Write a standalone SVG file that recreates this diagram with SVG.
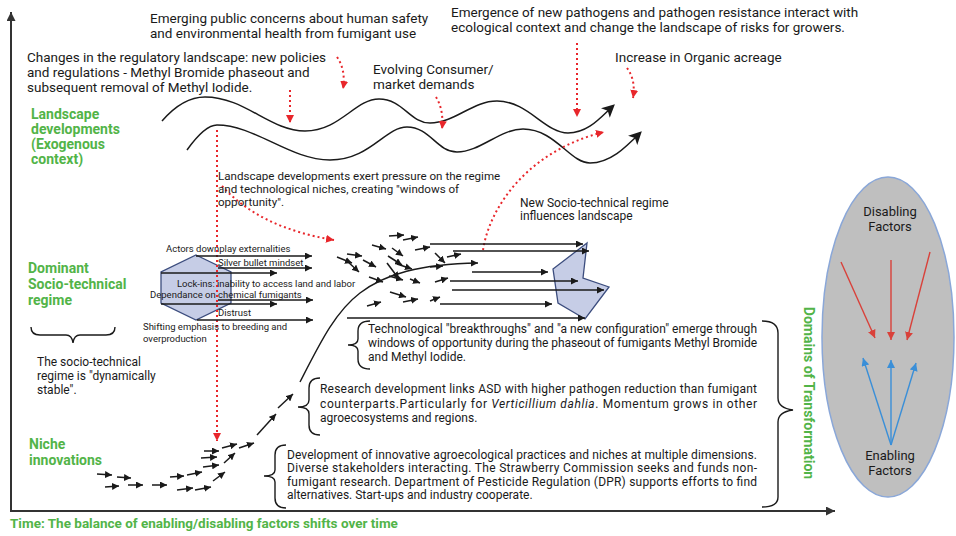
<svg xmlns="http://www.w3.org/2000/svg" width="956" height="536" viewBox="0 0 956 536">
<defs>
<style>
text{font-family:Roboto,"Liberation Sans",sans-serif;fill:#1a1a1a}
.t14{font-size:13.5px}
.t12{font-size:12px}
.t10{font-size:9.5px}
.g{font-weight:bold;fill:#52b448;font-size:14px}
.blk{font-size:12px}
.ln{stroke:#1a1a1a;stroke-width:1.4;fill:none}
.sa{stroke:#1a1a1a;stroke-width:1.5;fill:none;marker-end:url(#ab)}
.la{stroke:#1a1a1a;stroke-width:1.3;fill:none;marker-end:url(#ab)}
.rd{stroke:#e8262b;stroke-width:2;fill:none;stroke-dasharray:2 3;marker-end:url(#ar)}
.br{stroke:#1a1a1a;stroke-width:1.4;fill:none}
.poly{fill:#c6cde6;stroke:#3c4d7e;stroke-width:1.3}
</style>
<marker id="ab" viewBox="0 0 10 10" refX="10" refY="5" markerUnits="userSpaceOnUse" markerWidth="7" markerHeight="7" orient="auto"><path d="M0,0 L10,5 L0,10 z" fill="#1a1a1a"/></marker>
<marker id="aw" viewBox="0 0 10 10" refX="8" refY="5" markerUnits="userSpaceOnUse" markerWidth="13" markerHeight="13" orient="auto"><path d="M0,0 L10,5 L0,10 L2.5,5 z" fill="#1a1a1a"/></marker>
<marker id="ar" viewBox="0 0 10 10" refX="10" refY="5" markerUnits="userSpaceOnUse" markerWidth="8" markerHeight="8" orient="auto"><path d="M0,0 L10,5 L0,10 z" fill="#e8262b"/></marker>
<marker id="ared" viewBox="0 0 10 10" refX="10" refY="5" markerUnits="userSpaceOnUse" markerWidth="8" markerHeight="8" orient="auto"><path d="M0,0 L10,5 L0,10 z" fill="#d9413a"/></marker>
<marker id="ablue" viewBox="0 0 10 10" refX="10" refY="5" markerUnits="userSpaceOnUse" markerWidth="8" markerHeight="8" orient="auto"><path d="M0,0 L10,5 L0,10 z" fill="#3a8fd8"/></marker>
<marker id="aax" viewBox="0 0 10 10" refX="10" refY="5" markerUnits="userSpaceOnUse" markerWidth="9" markerHeight="9" orient="auto"><path d="M0,0 L10,5 L0,10 z" fill="#333"/></marker>
</defs>
<rect width="956" height="536" fill="#ffffff"/>

<!-- axes -->
<g id="axes">
<line x1="11" y1="511" x2="11" y2="12" stroke="#333" stroke-width="2" marker-end="url(#aax)"/>
<line x1="10" y1="511" x2="835" y2="511" stroke="#333" stroke-width="2" marker-end="url(#aax)"/>
</g>

<!-- regime shapes -->
<g id="regime-hexagon"><polygon class="poly" points="196,255 231,272 231,303 196,320 161,303 161,272"/></g>
<g id="new-regime-polygon"><polygon class="poly" points="587,243 553,269 558,303 585,319 609,287 583,278"/></g>

<!-- domain ellipse -->
<g id="factors">
<ellipse cx="888" cy="337" rx="66" ry="160" fill="#bfbfbf" stroke="#8aa7d8" stroke-width="1.5"/>
<text class="t12" x="890" y="216" text-anchor="middle" style="font-size:13px">Disabling</text>
<text class="t12" x="890" y="231" text-anchor="middle" style="font-size:13px">Factors</text>
<text class="t12" x="890" y="460" text-anchor="middle" style="font-size:13px">Enabling</text>
<text class="t12" x="890" y="475" text-anchor="middle" style="font-size:13px">Factors</text>
</g>

<g id="connectors">
<!-- landscape waves -->
<path class="ln" style="stroke-width:1.5" marker-end="url(#aw)" d="M162,121 C175,106 190,97 205,97 C245,97 270,131 305,131 C340,131 355,99 379,99 C403,99 410,123 430,123 C455,123 472,101 497,101 C528,101 545,133 568,133 C588,133 600,118 613,106"/>
<path class="ln" style="stroke-width:1.5" marker-end="url(#aw)" d="M187,150 C197,136 207,125 217,125 C255,125 290,160 330,160 C370,160 385,127 407,127 C430,127 437,152 457,152 C480,152 500,129 523,129 C555,129 570,163 590,163 C610,163 625,148 640,133"/>

<!-- red dotted pressure arrows -->
<path class="rd" d="M337,57 Q346,70 343,89"/>
<path class="rd" d="M290,90 L290,123"/>
<path class="rd" d="M436,97 Q444,110 442,129"/>
<path class="rd" d="M577,43 L577,117"/>
<path class="rd" d="M627,68 Q636,80 633,98"/>
<path class="rd" d="M217,130 L217,441"/>
<path class="rd" d="M222,186 Q260,228 334,240"/>
<path class="rd" d="M483,250 C490,205 530,150 604,132"/>

<!-- regime arrows -->
<line class="la" x1="196" y1="256" x2="312" y2="256"/>
<line class="la" x1="218" y1="268" x2="312" y2="268"/>
<line class="la" x1="161" y1="273" x2="277" y2="273"/>
<line class="la" x1="218" y1="300" x2="313" y2="300"/>
<line class="la" x1="161" y1="304" x2="277" y2="304"/>
<line class="la" x1="197" y1="320" x2="313" y2="320"/>

<!-- cluster arrows -->
<line class="sa" x1="389" y1="236" x2="404" y2="235"/>
<line class="sa" x1="403" y1="240" x2="418" y2="237"/>
<line class="sa" x1="372" y1="245" x2="386" y2="249"/>
<line class="sa" x1="392" y1="248" x2="403" y2="256"/>
<line class="sa" x1="415" y1="250" x2="430" y2="247"/>
<line class="sa" x1="337" y1="257" x2="352" y2="263"/>
<line class="sa" x1="347" y1="254" x2="362" y2="256"/>
<line class="sa" x1="347" y1="261" x2="359" y2="272"/>
<line class="sa" x1="363" y1="260" x2="376" y2="267"/>
<line class="sa" x1="388" y1="256" x2="402" y2="265"/>
<line class="sa" x1="397" y1="264" x2="412" y2="269"/>
<line class="sa" x1="387" y1="263" x2="399" y2="279"/>
<line class="sa" x1="369" y1="277" x2="383" y2="282"/>
<line class="sa" x1="389" y1="276" x2="403" y2="280"/>
<line class="sa" x1="410" y1="279" x2="420" y2="283"/>
<line class="sa" x1="435" y1="253" x2="445" y2="263"/>
<line class="sa" x1="447" y1="257" x2="461" y2="254"/>
<line class="sa" x1="430" y1="267" x2="443" y2="266"/>
<line class="sa" x1="435" y1="282" x2="448" y2="278"/>
<line class="sa" x1="390" y1="292" x2="406" y2="297"/>
<line class="sa" x1="403" y1="302" x2="418" y2="299"/>
<line class="sa" x1="430" y1="301" x2="440" y2="297"/>
<line class="sa" x1="367" y1="306" x2="381" y2="302"/>

<!-- long arrows -->
<line class="la" x1="430" y1="244" x2="583" y2="244"/>
<line class="la" x1="453" y1="251" x2="589" y2="251"/>
<line class="la" x1="472" y1="272" x2="548" y2="272"/>
<line class="la" x1="450" y1="281" x2="578" y2="281"/>
<line class="la" x1="452" y1="290" x2="604" y2="290"/>
<line class="la" x1="440" y1="304" x2="552" y2="304"/>
<line class="la" x1="347" y1="318" x2="585" y2="318"/>

<!-- S curve -->
<path class="ln" marker-end="url(#ab)" d="M300,382 C320,343 335,312 360,293 C385,274 420,264 478,263"/>

<!-- niche arrows -->
<line class="sa" x1="97" y1="474" x2="112" y2="475"/>
<line class="sa" x1="117" y1="477" x2="131" y2="478"/>
<line class="sa" x1="105" y1="487" x2="119" y2="486"/>
<line class="sa" x1="128" y1="485" x2="143" y2="485"/>
<line class="sa" x1="152" y1="485" x2="167" y2="485"/>
<line class="sa" x1="170" y1="477" x2="184" y2="476"/>
<line class="sa" x1="187" y1="475" x2="202" y2="472"/>
<line class="sa" x1="177" y1="490" x2="193" y2="488"/>
<line class="sa" x1="195" y1="490" x2="211" y2="487"/>
<line class="sa" x1="203" y1="467" x2="219" y2="465"/>
<line class="sa" x1="213" y1="481" x2="225" y2="472"/>
<line class="sa" x1="201" y1="458" x2="217" y2="457"/>
<line class="sa" x1="204" y1="451" x2="219" y2="451"/>
<line class="sa" x1="222" y1="448" x2="237" y2="444"/>
<line class="sa" x1="224" y1="463" x2="235" y2="453"/>
<line class="sa" x1="239" y1="448" x2="254" y2="443"/>
<line class="sa" x1="257" y1="435" x2="276" y2="414"/>
<line class="sa" x1="278" y1="408" x2="293" y2="394"/>

<!-- braces -->
<path class="br" d="M31,327 Q31,335 40,335 L66,335 Q72,335 73,343 Q74,335 80,335 L106,335 Q115,335 115,327"/>
<path class="br" d="M370,321 Q358,321 358,331 L358,339 Q358,345 348,345 Q358,345 358,351 L358,359 Q358,369 370,369"/>
<path class="br" d="M320,378 Q309,378 309,388 L309,400 Q309,407 298,407 Q309,407 309,414 L309,425 Q309,435 320,435"/>
<path class="br" d="M286,445 Q275,445 275,455 L275,470 Q275,476 264,476 Q275,476 275,482 L275,498 Q275,508 286,508"/>
<path class="br" d="M762,321 Q778,321 778,333 L778,398 Q778,408 793,410 Q778,412 778,422 L778,497 Q778,507 762,507"/>

<!-- factor arrows -->
<line stroke="#d9413a" stroke-width="1.4" marker-end="url(#ared)" x1="841" y1="262" x2="875" y2="338"/>
<line stroke="#d9413a" stroke-width="1.4" marker-end="url(#ared)" x1="891" y1="260" x2="891" y2="340"/>
<line stroke="#d9413a" stroke-width="1.4" marker-end="url(#ared)" x1="930" y1="252" x2="907" y2="340"/>
<line stroke="#3a8fd8" stroke-width="1.4" marker-end="url(#ablue)" x1="891" y1="445" x2="863" y2="358"/>
<line stroke="#3a8fd8" stroke-width="1.4" marker-end="url(#ablue)" x1="891" y1="445" x2="891" y2="360"/>
<line stroke="#3a8fd8" stroke-width="1.4" marker-end="url(#ablue)" x1="891" y1="445" x2="916" y2="363"/>
</g>

<!-- landscape texts -->
<g id="landscape-public">
<text class="t14" x="150" y="23">Emerging public concerns about human safety</text>
<text class="t14" x="150" y="38">and environmental health from fumigant use</text>
</g>
<g id="landscape-regulatory">
<text class="t14" x="27" y="62">Changes in the regulatory landscape: new policies</text>
<text class="t14" x="27" y="77">and regulations - Methyl Bromide phaseout and</text>
<text class="t14" x="27" y="92">subsequent removal of Methyl Iodide.</text>
</g>
<g id="landscape-consumer">
<text class="t14" x="373" y="74">Evolving Consumer/</text>
<text class="t14" x="373" y="89">market demands</text>
</g>
<g id="landscape-pathogens">
<text class="t14" x="451" y="17">Emergence of new pathogens and pathogen resistance interact with</text>
<text class="t14" x="451" y="32">ecological context and change the landscape of risks for growers.</text>
</g>
<g id="landscape-organic"><text class="t14" x="615" y="62">Increase in Organic acreage</text></g>

<g id="label-landscape">
<text class="g" x="31" y="119">Landscape</text>
<text class="g" x="31" y="134">developments</text>
<text class="g" x="31" y="149">(Exogenous</text>
<text class="g" x="31" y="164">context)</text>
</g>
<g id="label-regime">
<text class="g" x="28" y="273">Dominant</text>
<text class="g" x="28" y="289">Socio-technical</text>
<text class="g" x="28" y="305">regime</text>
</g>
<g id="label-stable">
<text class="t12" x="37" y="366">The socio-technical</text>
<text class="t12" x="37" y="380">regime is "dynamically</text>
<text class="t12" x="37" y="394">stable".</text>
</g>
<g id="label-niche">
<text class="g" x="29" y="449">Niche</text>
<text class="g" x="29" y="465">innovations</text>
</g>
<g id="label-time"><text class="g" x="10" y="528" style="font-size:13.5px">Time: The balance of enabling/disabling factors shifts over time</text></g>
<g id="label-domains"><text class="g" transform="translate(804,393) rotate(90)" text-anchor="middle">Domains of Transformation</text></g>

<g id="pressure-note">
<text class="t12" x="218" y="180" style="font-size:11.6px">Landscape developments exert pressure on the regime</text>
<text class="t12" x="218" y="193" style="font-size:11.6px">and technological niches, creating "windows of</text>
<text class="t12" x="218" y="206" style="font-size:11.6px">opportunity".</text>
</g>
<g id="new-regime-note">
<text class="t12" x="520" y="207">New Socio-technical regime</text>
<text class="t12" x="520" y="220">influences landscape</text>
</g>

<g id="regime-items">
<text class="t10" x="166" y="252">Actors downplay externalities</text>
<text class="t10" x="218" y="266">Silver bullet mindset</text>
<text class="t10" x="177" y="287">Lock-ins: inability to access land and labor</text>
<text class="t10" x="150" y="298">Dependance on chemical fumigants</text>
<text class="t10" x="218" y="316">Distrust</text>
<text class="t10" x="143" y="330">Shifting emphasis to breeding and</text>
<text class="t10" x="143" y="342">overproduction</text>
</g>

<g id="block-breakthroughs">
<text class="blk" x="368" y="333" textLength="389" lengthAdjust="spacing">Technological "breakthroughs" and "a new configuration" emerge through</text>
<text class="blk" x="368" y="347" textLength="389" lengthAdjust="spacing">windows of opportunity during the phaseout of fumigants Methyl Bromide</text>
<text class="blk" x="368" y="361">and Methyl Iodide.</text>
</g>
<g id="block-research">
<text class="blk" x="320" y="393" textLength="437" lengthAdjust="spacing">Research development links ASD with higher pathogen reduction than fumigant</text>
<text class="blk" x="320" y="408" textLength="437" lengthAdjust="spacing">counterparts.Particularly for <tspan font-style="italic">Verticillium dahlia</tspan>. Momentum grows in other</text>
<text class="blk" x="320" y="422">agroecosystems and regions.</text>
</g>
<g id="block-development">
<text class="blk" x="287" y="459" textLength="470" lengthAdjust="spacing">Development of innovative agroecological practices and niches at multiple dimensions.</text>
<text class="blk" x="287" y="472" textLength="470" lengthAdjust="spacing">Diverse stakeholders interacting. The Strawberry Commission seeks and funds non-</text>
<text class="blk" x="287" y="486" textLength="470" lengthAdjust="spacing">fumigant research. Department of Pesticide Regulation (DPR) supports efforts to find</text>
<text class="blk" x="287" y="499">alternatives. Start-ups and industry cooperate.</text>
</g>
</svg>
